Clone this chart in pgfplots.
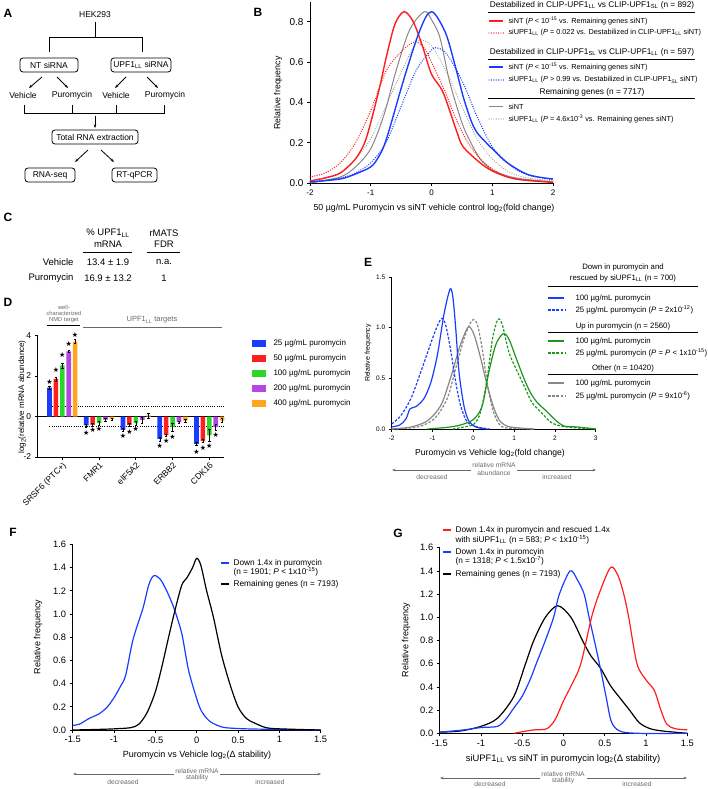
\documentclass[border=0pt]{standalone}
\usepackage{fontspec}
\setmainfont{Liberation Sans}
\newfontfamily\symf{DejaVu Sans}
\usepackage{pgfplots}
\pgfplotsset{compat=1.18}
\usetikzlibrary{arrows.meta}

\newcommand\fs[1]{\fontsize{#1}{#1}\selectfont}
\newcommand\LL{\textsubscript{LL}}
\newcommand\SL{\textsubscript{SL}}

\definecolor{cblue}{RGB}{25,60,255}
\definecolor{cred}{RGB}{255,30,30}
\definecolor{cgreen}{RGB}{30,150,30}
\definecolor{cgray}{RGB}{135,135,135}
\definecolor{bgreen}{RGB}{40,215,40}
\definecolor{bpurple}{RGB}{180,70,225}
\definecolor{borange}{RGB}{255,165,30}
\definecolor{agray}{RGB}{105,105,105}

\tikzset{
 dotb/.style={dash pattern=on 0pt off 2.4pt, line cap=round, line width=1.4pt},
 dsh/.style={dash pattern=on 2.6pt off 1.6pt},
}
\pgfplotsset{
 panel/.style={scale only axis, anchor=south west, clip=false,
  axis x line*=bottom, axis y line*=left,
  axis line style={line width=1pt,-},
  tick style={line width=0.8pt,black},
  major tick length=3pt, tick align=outside},
 dgeo/.style={scale only axis, anchor=south west, clip=false,
  at={(37.7pt,-457pt)}, width=186.3pt, height=121.5pt,
  xmin=-0.67, xmax=4.4, ymin=-2, ymax=4},
 cv/.style={smooth, line width=1.2pt, mark=none},
 bst/.style={draw=none, error bars/.cd, y dir=both, y explicit,
  error bar style={line width=0.5pt,black},
  error mark options={rotate=90, mark size=1.2pt, line width=0.5pt, black}},
}

\begin{document}
\begin{tikzpicture}
\useasboundingbox (0pt,0pt) rectangle (708pt,-789pt);
\begin{scope}[x=1pt,y=-1pt]
% panel letters
\foreach \l/\px/\py in {A/8/13,B/258/12,C/8/217,D/8/302,E/368/262,F/13/532,G/398/533}
 \node[font=\bfseries\fs{12}] at (\px,\py) {\l};

% ---- A: workflow
\begin{scope}[font=\fs{8.5}, line width=0.8pt]
\node at (95,15) {HEK293};
\draw (95,22) -- (95,37) (49,52) -- (49,37) -- (142,37) -- (142,52);
\draw[rounded corners=3pt] (20,58) rectangle (78,72);
\node at (49,65) {NT siRNA};
\draw[rounded corners=3pt] (111,58) rectangle (171,72);
\node at (141,65) {UPF1\LL{} siRNA};
\draw[-{Stealth[length=3.5pt]}] (42,77) -- (29,88);
\draw[-{Stealth[length=3.5pt]}] (57,77) -- (68,88);
\draw[-{Stealth[length=3.5pt]}] (126,77) -- (115,88);
\draw[-{Stealth[length=3.5pt]}] (147,77) -- (158,88);
\node at (23,95) {Vehicle};
\node at (72,95) {Puromycin};
\node at (116,95) {Vehicle};
\node at (165,95) {Puromycin};
\draw (24,105) -- (24,113) -- (164,113) -- (164,105) (72,105) -- (72,113) (116,105) -- (116,113);
\draw[-{Stealth[length=3.5pt]}] (95,116) -- (95,128);
\draw[rounded corners=3pt] (52,130) rectangle (138,144);
\node at (95,137) {Total RNA extraction};
\draw[-{Stealth[length=3.5pt]}] (88,150) -- (75,162);
\draw[-{Stealth[length=3.5pt]}] (101,150) -- (114,162);
\draw[rounded corners=3pt] (25,168) rectangle (75,182);
\node at (50,175) {RNA-seq};
\draw[rounded corners=3pt] (112,168) rectangle (157,182);
\node at (134.5,175) {RT-qPCR};
\end{scope}

% ---- C: table
\begin{scope}[font=\fs{9.5}]
\node at (108,233) {\% UPF1\LL};
\node at (108,244) {mRNA};
\node at (164,233) {rMATS};
\node at (164,244) {FDR};
\draw[line width=1pt] (83,252) -- (132,252) (147,252) -- (180,252);
\node[anchor=east] at (77,262) {Vehicle};
\node at (108,262) {13.4 ± 1.9};
\node at (164,262) {n.a.};
\node[anchor=east] at (77,278) {Puromycin};
\node at (108,278) {16.9 ± 13.2};
\node at (164,278) {1};
\end{scope}

% ---- D: headers and legend
\node[font=\fs{5.8}, align=center, text=agray, inner sep=0pt] at (64,314) {well-\\characterized\\NMD target};
\draw[line width=0.8pt] (47,325) -- (80,325);
\draw[line width=0.8pt, agray] (83,327) -- (222,327);
\node[font=\fs{7.5}, text=agray] at (152,320) {UPF1\LL{} targets};
\node[font=\fs{8}, rotate=90] at (22,397) {log\textsubscript{2}(relative mRNA abundance)};
\foreach \c/\yy/\t in {cblue/343/25,cred/358/50,bgreen/373/100,bpurple/388/200,borange/403/400}{
 \fill[\c] (252,\yy-3.5) rectangle (266,\yy+3.5);
 \node[font=\fs{8}, anchor=west] at (270,\yy) {\t\ µg/mL puromycin};
}

% ---- B: labels and legend
\node[font=\fs{8.8}, rotate=90] at (278,93) {Relative frequency};
\node[font=\fs{8.8}] at (434,208) {50 µg/mL Puromycin vs siNT vehicle control log\textsubscript{2}(fold change)};
\begin{scope}[font=\fs{7.3}]
\node[font=\fs{8.3}] at (592,5) {Destabilized in CLIP-UPF1\LL{} vs CLIP-UPF1\SL{} (n = 892)};
\draw[line width=1pt] (488,13) -- (695,13);
\draw[cred, line width=1.4pt] (489,21) -- (503,21);
\node[anchor=west] at (505,21) {siNT (\textit{P} < 10\textsuperscript{-15} vs. Remaining genes siNT)};
\draw[cred, dotb] (489,33) -- (504,33);
\node[anchor=west] at (505,33) {siUPF1\LL{} (\textit{P} = 0.022 vs. Destabilized in CLIP-UPF1\LL{} siNT)};
\node[font=\fs{8.3}] at (592,52) {Destabilized in CLIP-UPF1\SL{} vs CLIP-UPF1\LL{} (n = 597)};
\draw[line width=1pt] (488,60) -- (695,60);
\draw[cblue, line width=1.4pt] (489,67) -- (503,67);
\node[anchor=west] at (505,67) {siNT (\textit{P} < 10\textsuperscript{-15} vs. Remaining genes siNT)};
\draw[cblue, dotb] (489,80) -- (504,80);
\node[anchor=west] at (505,80) {siUPF1\LL{} (\textit{P} > 0.99 vs. Destabilized in CLIP-UPF1\SL{} siNT)};
\node[font=\fs{8.3}] at (592,92) {Remaining genes (n = 7717)};
\draw[line width=1pt] (488,99) -- (695,99);
\draw[cgray, line width=1pt] (489,107) -- (503,107);
\node[anchor=west] at (505,107) {siNT};
\draw[cgray, dotb, line width=1.1pt] (489,119) -- (504,119);
\node[anchor=west] at (505,119) {siUPF1\LL{} (\textit{P} = 4.6x10\textsuperscript{-3} vs. Remaining genes siNT)};
\end{scope}

% ---- E: labels, legend, arrow
\node[font=\fs{7}, rotate=90] at (368,353) {Relative frequency};
\node[font=\fs{8.6}] at (490,453) {Puromycin vs Vehicle log\textsubscript{2}(fold change)};
\begin{scope}[font=\fs{7.8}]
\node at (623,267) {Down in puromycin and};
\node at (623,278) {rescued by siUPF1\LL{} (n = 700)};
\draw[line width=1pt] (548,286) -- (698,286);
\draw[cblue, line width=1.2pt] (548,298) -- (564,298);
\node[anchor=west] at (572,298) {100 µg/mL puromycin};
\draw[cblue, dsh, line width=1.2pt] (548,310) -- (565,310);
\node[anchor=west] at (572,310) {25 µg/mL puromycin (\textit{P} = 2x10\textsuperscript{-12})};
\node at (623,326) {Up in puromycin (n = 2560)};
\draw[line width=1pt] (548,332) -- (698,332);
\draw[cgreen, line width=1.2pt] (548,341) -- (564,341);
\node[anchor=west] at (572,341) {100 µg/mL puromycin};
\draw[cgreen, dsh, line width=1.2pt] (548,353) -- (565,353);
\node[anchor=west] at (572,353) {25 µg/mL puromycin (\textit{P} = \textit{P} < 1x10\textsuperscript{-15})};
\node at (623,368) {Other (n = 10420)};
\draw[line width=1pt] (548,374) -- (698,374);
\draw[cgray, line width=1.2pt] (548,383) -- (564,383);
\node[anchor=west] at (572,383) {100 µg/mL puromycin};
\draw[cgray, dsh, line width=1.2pt] (548,396) -- (565,396);
\node[anchor=west] at (572,396) {25 µg/mL puromycin (\textit{P} = 9x10\textsuperscript{-6})};
\end{scope}
\begin{scope}[agray, line width=0.9pt, font=\fs{6.7}, text=agray]
\draw[{Stealth[length=3.5pt]}-] (392,470) -- (471,470);
\draw[-{Stealth[length=3.5pt]}] (517,470) -- (596,470);
\node at (494,465) {relative mRNA};
\node at (494,473) {abundance};
\node at (432,477) {decreased};
\node at (557,477) {increased};
% F arrow
\draw[{Stealth[length=3.5pt]}-] (73,774) -- (174,774);
\draw[-{Stealth[length=3.5pt]}] (220,774) -- (321,774);
\node at (197,771) {relative mRNA};
\node at (197,777.5) {stability};
\node at (123,782) {decreased};
\node at (270,782) {increased};
% G arrow
\draw[{Stealth[length=3.5pt]}-] (440,778) -- (540,778);
\draw[-{Stealth[length=3.5pt]}] (587,778) -- (687,778);
\node at (563,774) {relative mRNA};
\node at (563,781) {stability};
\node at (490,784) {decreased};
\node at (637,784) {increased};
\end{scope}

% ---- F labels and legend
\node[font=\fs{9}, rotate=90] at (38,637) {Relative frequency};
\node[font=\fs{9}] at (197,755) {Puromycin vs Vehicle log\textsubscript{2}(Δ stability)};
\begin{scope}[font=\fs{8.3}]
\draw[cblue, line width=1.2pt] (221,563) -- (229,563);
\node[anchor=west] at (230,563) {Down 1.4x in puromycin};
\node[anchor=west] at (230,572) {(n = 1901; \textit{P} < 1x10\textsuperscript{-15})};
\draw[black, line width=1.2pt] (221,584) -- (229,584);
\node[anchor=west] at (230,584) {Remaining genes (n = 7193)};
\end{scope}

% ---- G labels and legend
\node[font=\fs{9}, rotate=90] at (406,640) {Relative frequency};
\node[font=\fs{9.4}] at (563,759) {siUPF1\LL{} vs siNT in puromycin log\textsubscript{2}(Δ stability)};
\begin{scope}[font=\fs{8.3}]
\draw[cred, line width=1.2pt] (443,530) -- (451,530);
\node[anchor=west] at (452,530) {Down 1.4x in puromycin and rescued 1.4x};
\node[anchor=west] at (452,540) {with siUPF1\LL{} (n = 583; \textit{P} < 1x10\textsuperscript{-15})};
\draw[cblue, line width=1.2pt] (443,552) -- (451,552);
\node[anchor=west] at (452,552) {Down 1.4x in puromcyin};
\node[anchor=west] at (452,561) {(n = 1318; \textit{P} < 1.5x10\textsuperscript{-7})};
\draw[black, line width=1.2pt] (443,574) -- (451,574);
\node[anchor=west] at (452,574) {Remaining genes (n = 7193)};
\end{scope}
\end{scope}

% ================= B =================
\begin{axis}[panel, at={(310pt,-183pt)}, width=243pt, height=181.4pt,
 xmin=-2, xmax=2, ymin=0, ymax=0.9,
 xtick={-2,-1,0,1,2}, xticklabels={-2,-1,0,1,2},
 ytick={0,0.2,0.4,0.6,0.8}, yticklabels={0.0,0.2,0.4,0.6,0.8},
 yticklabel style={font=\fs{10}}, xticklabel style={font=\fs{8}}]
\addplot[cv, cgray, line width=1pt] coordinates {(-2,0.0) (-1.5,0.03) (-1.25,0.08) (-1,0.17) (-0.78,0.34) (-0.58,0.56) (-0.36,0.76) (-0.12,0.85) (0,0.81) (0.14,0.72) (0.3,0.5) (0.5,0.3) (0.63,0.21) (0.8,0.12) (1,0.065) (1.25,0.035) (1.5,0.02) (2,0.005)};
\addplot[cv, cgray, dotb, line width=1.1pt] coordinates {(-2,0.01) (-1.5,0.05) (-1.25,0.12) (-1,0.22) (-0.75,0.38) (-0.5,0.55) (-0.3,0.67) (-0.18,0.71) (0,0.68) (0.25,0.55) (0.5,0.38) (0.75,0.22) (1,0.12) (1.25,0.06) (1.5,0.03) (2,0.01)};
\addplot[cv, cred, dotb] coordinates {(-2,0.03) (-1.75,0.05) (-1.5,0.1) (-1.25,0.2) (-1,0.36) (-0.74,0.56) (-0.47,0.66) (-0.27,0.7) (-0.12,0.67) (0,0.6) (0.2,0.47) (0.4,0.32) (0.6,0.2) (0.8,0.12) (1,0.07) (1.25,0.03) (1.5,0.015) (2,0.005)};
\addplot[cv, cblue, dotb] coordinates {(-2,0.005) (-1.5,0.025) (-1.25,0.05) (-1,0.1) (-0.75,0.2) (-0.5,0.38) (-0.25,0.56) (0,0.66) (0.1,0.67) (0.25,0.64) (0.5,0.51) (0.75,0.33) (1,0.18) (1.25,0.1) (1.5,0.05) (2,0.015)};
\addplot[cv, cred, line width=1.4pt] coordinates {(-2,0.01) (-1.75,0.025) (-1.5,0.05) (-1.25,0.12) (-1.1,0.2) (-1,0.3) (-0.85,0.48) (-0.74,0.63) (-0.6,0.79) (-0.45,0.85) (-0.3,0.8) (-0.15,0.68) (0,0.54) (0.19,0.45) (0.41,0.26) (0.52,0.18) (0.8,0.1) (1,0.06) (1.25,0.03) (1.5,0.015) (2,0.003)};
\addplot[cv, cblue, line width=1.4pt] coordinates {(-2,0.005) (-1.5,0.02) (-1.25,0.045) (-1,0.08) (-0.87,0.13) (-0.74,0.22) (-0.47,0.5) (-0.25,0.71) (-0.1,0.82) (0,0.85) (0.1,0.82) (0.25,0.73) (0.4,0.57) (0.52,0.43) (0.65,0.31) (0.75,0.25) (0.9,0.2) (1,0.17) (1.25,0.1) (1.6,0.04) (2,0.02)};
\end{axis}

% ================= D =================
\begin{axis}[dgeo, axis x line*=bottom, axis y line*=left,
 axis line style={line width=1pt,-},
 tick style={line width=0.8pt,black},
 major tick length=3pt, tick align=outside,
 ytick={-2,0,2,4}, yticklabels={-2,0,2,4},
 xtick={0,1,2,3,4}, xticklabels={SRSF6 (PTC+),FMR1,eIF5A2,ERBB2,CDK16},
 ticklabel style={font=\fs{8.5}},
 xticklabel style={rotate=45, anchor=north east, inner sep=1pt},
 ybar=1.8pt, bar width=4.6pt]
\draw[line width=0.8pt] (axis cs:-0.67,0) -- (axis cs:4.4,0);
\draw[line width=0.8pt, dash pattern=on 1pt off 1.2pt] (axis cs:-0.35,0.5) -- (axis cs:4.4,0.5);
\draw[line width=0.8pt, dash pattern=on 1pt off 1.2pt] (axis cs:-0.35,-0.5) -- (axis cs:4.4,-0.5);
\addplot[fill=cblue, bst] coordinates {(0,1.42) +- (0,0.06) (1,-0.44) +- (0,0.08) (2,-0.66) +- (0,0.08) (3,-1.1) +- (0,0.1) (4,-1.35) +- (0,0.08)};
\addplot[fill=cred, bst] coordinates {(0,1.86) +- (0,0.1) (1,-0.41) +- (0,0.06) (2,-0.41) +- (0,0.08) (3,-0.92) +- (0,0.06) (4,-1.2) +- (0,0.08)};
\addplot[fill=bgreen, bst] coordinates {(0,2.52) +- (0,0.12) (1,-0.33) +- (0,0.12) (2,-0.33) +- (0,0.1) (3,-0.53) +- (0,0.2) (4,-0.93) +- (0,0.3)};
\addplot[fill=bpurple, bst] coordinates {(0,3.22) +- (0,0.05) (1,-0.16) +- (0,0.05) (2,-0.17) +- (0,0.15) (3,-0.28) +- (0,0.06) (4,-0.52) +- (0,0.15)};
\addplot[fill=borange, bst] coordinates {(0,3.7) +- (0,0.1) (1,-0.13) +- (0,0.05) (2,0.05) +- (0,0.12) (3,-0.2) +- (0,0.06) (4,-0.2) +- (0,0.1)};
\end{axis}
% significance stars, same geometry as D
\begin{axis}[dgeo, hide axis]
\addplot[only marks, mark=none, nodes near coords={★},
 every node near coord/.append style={anchor=center, font=\symf\fs{7}, inner sep=0pt}]
 coordinates {(-0.35,1.69) (-0.174,2.3) (0,3.05) (0.174,3.56) (0.348,4.05)
 (0.652,-0.8) (0.826,-0.69) (1,-0.61)
 (1.652,-0.94) (1.826,-0.74) (2,-0.64)
 (2.652,-1.48) (2.826,-1.19) (3,-1.02)
 (3.652,-1.76) (3.826,-1.55) (4,-1.47) (4.174,-0.89)};
\end{axis}

% ================= E =================
\begin{axis}[panel, at={(391.7pt,-429pt)}, width=204pt, height=152pt,
 xmin=-2, xmax=3, ymin=0, ymax=1.5,
 xtick={-2,-1,0,1,2,3}, xticklabels={-2,-1,0,1,2,3},
 ytick={0,0.5,1,1.5}, yticklabels={0.0,0.5,1.0,1.5},
 ticklabel style={font=\fs{6.5}}]
\addplot[cv, cgray, dsh] coordinates {(-2,0) (-1.37,0.02) (-0.96,0.1) (-0.64,0.3) (-0.43,0.6) (-0.23,0.89) (-0.08,1.04) (0,1.08) (0.1,1.03) (0.22,0.79) (0.34,0.46) (0.47,0.2) (0.63,0.05) (0.83,0.01) (1.5,0)};
\addplot[cv, cgray] coordinates {(-2,0) (-1.53,0.02) (-1.13,0.08) (-0.8,0.23) (-0.56,0.5) (-0.35,0.79) (-0.19,0.96) (-0.1,1.01) (0.02,0.93) (0.18,0.7) (0.34,0.43) (0.51,0.2) (0.67,0.07) (0.91,0.02) (1.5,0)};
\addplot[cv, cblue, dsh] coordinates {(-2,0.05) (-1.78,0.13) (-1.53,0.3) (-1.29,0.56) (-1.09,0.79) (-0.92,0.98) (-0.78,1.09) (-0.68,1.03) (-0.56,0.79) (-0.43,0.46) (-0.31,0.23) (-0.15,0.07) (0.1,0.02) (0.4,0)};
\addplot[cv, cblue] coordinates {(-2,0.02) (-1.8,0.04) (-1.65,0.1) (-1.55,0.2) (-1.41,0.22) (-1.21,0.3) (-1.04,0.46) (-0.88,0.73) (-0.72,1.13) (-0.57,1.38) (-0.5,1.3) (-0.43,0.99) (-0.35,0.56) (-0.23,0.23) (-0.11,0.08) (0.06,0.02) (0.34,0)};
\addplot[cv, cgreen, dsh] coordinates {(-0.5,0) (-0.23,0.02) (0.02,0.05) (0.18,0.17) (0.34,0.5) (0.47,0.89) (0.6,1.08) (0.71,1.03) (0.87,0.76) (1.04,0.6) (1.24,0.43) (1.44,0.26) (1.65,0.17) (1.89,0.07) (2.14,0.03) (2.55,0.01) (3,0)};
\addplot[cv, cgreen] coordinates {(-1.13,0) (-0.56,0.02) (-0.23,0.05) (0.02,0.1) (0.22,0.23) (0.38,0.56) (0.55,0.83) (0.73,0.94) (0.87,0.89) (1.04,0.71) (1.24,0.5) (1.4,0.36) (1.57,0.26) (1.81,0.17) (1.98,0.1) (2.22,0.03) (2.55,0.02) (3,0)};
\end{axis}

% ================= F =================
\begin{axis}[panel, at={(72.7pt,-730pt)}, width=248pt, height=185.6pt,
 xmin=-1.5, xmax=1.5, ymin=0, ymax=1.6,
 xtick={-1.5,-1,-0.5,0,0.5,1,1.5}, xticklabels={-1.5,-1,-0.5,0,0.5,1,1.5},
 ytick={0,0.2,0.4,0.6,0.8,1,1.2,1.4,1.6}, yticklabels={0.0,0.2,0.4,0.6,0.8,1.0,1.2,1.4,1.6},
 ticklabel style={font=\fs{9.3}}]
\addplot[cv, cblue] coordinates {(-1.5,0.04) (-1.42,0.05) (-1.3,0.1) (-1.18,0.14) (-1.08,0.2) (-0.99,0.29) (-0.92,0.38) (-0.86,0.47) (-0.77,0.78) (-0.65,1.05) (-0.58,1.25) (-0.52,1.33) (-0.44,1.3) (-0.35,1.18) (-0.27,1.04) (-0.18,0.83) (-0.1,0.52) (0,0.27) (0.06,0.16) (0.15,0.08) (0.25,0.04) (0.35,0.02) (0.6,0.01) (1,0.005) (1.5,0)};
\addplot[cv, black] coordinates {(-1.5,0) (-1.2,0.005) (-1,0.01) (-0.8,0.02) (-0.7,0.05) (-0.6,0.15) (-0.5,0.33) (-0.42,0.55) (-0.34,0.8) (-0.26,1.04) (-0.18,1.25) (-0.12,1.31) (-0.05,1.4) (0,1.48) (0.05,1.42) (0.12,1.2) (0.2,0.98) (0.3,0.65) (0.4,0.4) (0.5,0.2) (0.6,0.1) (0.7,0.06) (0.84,0.02) (1,0.01) (1.5,0)};
\end{axis}

% ================= G =================
\begin{axis}[panel, at={(439.7pt,-733.3pt)}, width=247.6pt, height=185.6pt,
 xmin=-1.5, xmax=1.5, ymin=0, ymax=1.6,
 xtick={-1.5,-1,-0.5,0,0.5,1,1.5}, xticklabels={-1.5,-1,-0.5,0,0.5,1,1.5},
 ytick={0,0.2,0.4,0.6,0.8,1,1.2,1.4,1.6}, yticklabels={0.0,0.2,0.4,0.6,0.8,1.0,1.2,1.4,1.6},
 ticklabel style={font=\fs{9.3}}]
\addplot[cv, black] coordinates {(-1.5,0.01) (-1.25,0.02) (-1,0.06) (-0.8,0.13) (-0.6,0.32) (-0.46,0.6) (-0.36,0.8) (-0.22,1.0) (-0.07,1.1) (0.09,1.0) (0.23,0.8) (0.33,0.67) (0.45,0.56) (0.57,0.41) (0.7,0.29) (0.8,0.2) (0.92,0.09) (1.05,0.04) (1.2,0.02) (1.5,0)};
\addplot[cv, cblue] coordinates {(-1.5,0.01) (-1.2,0.03) (-1,0.05) (-0.8,0.06) (-0.7,0.12) (-0.6,0.22) (-0.5,0.32) (-0.4,0.47) (-0.33,0.6) (-0.22,0.8) (-0.12,1.0) (-0.05,1.2) (0.08,1.4) (0.17,1.32) (0.25,1.2) (0.31,1.0) (0.38,0.78) (0.45,0.55) (0.52,0.3) (0.58,0.1) (0.68,0.02) (0.9,0) (1.5,0)};
\addplot[cv, cred] coordinates {(-0.6,0) (-0.45,0.02) (-0.35,0.03) (-0.2,0.04) (-0.1,0.12) (0,0.28) (0.1,0.42) (0.21,0.6) (0.34,1.0) (0.43,1.2) (0.57,1.43) (0.66,1.36) (0.73,1.2) (0.79,1.0) (0.89,0.6) (1,0.46) (1.1,0.37) (1.18,0.2) (1.25,0.08) (1.35,0.04) (1.5,0.03)};
\end{axis}
\end{tikzpicture}
\end{document}
